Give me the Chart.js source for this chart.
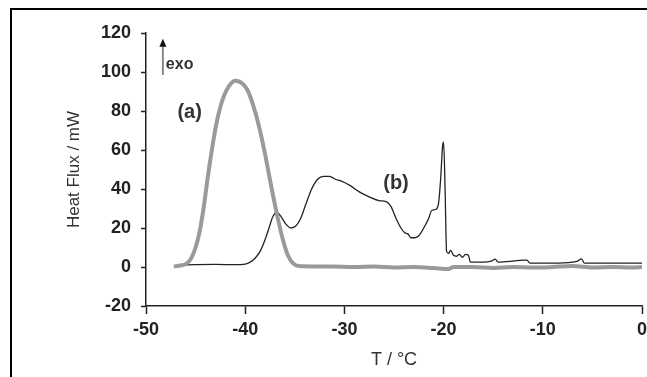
<!DOCTYPE html>
<html>
<head>
<meta charset="utf-8">
<script src="https://cdn.jsdelivr.net/npm/chart.js@4/dist/chart.umd.min.js"></script>
<style>
  body { margin: 0; background: #fff; }
  #wrap { position: relative; width: 647px; height: 377px; overflow: hidden; }
  #frame { position: absolute; left: 10px; top: 8px; right: -4px; bottom: -4px;
           border-left: 2px solid #000; border-top: 2px solid #000; pointer-events: none; }
</style>
</head>
<body>
<div id="wrap">
  <canvas id="chartId" width="647" height="377"></canvas>
  <div id="frame"></div>
</div>
<script>
// curve (a) - thick grey
const tempA = [-47.2, -46.5, -46.0, -45.5, -45.0, -44.6, -44.2, -43.8, -43.3, -42.8, -42.2, -41.6, -41.0, -40.4,
  -39.8, -39.2, -38.6, -38.0, -37.4, -36.8, -36.2, -35.7, -35.2, -34.6, -33, -31, -29, -27, -25, -23, -21,
  -19.5, -19, -17, -15, -13, -11, -9, -7, -5, -3, -1, 0];
const fluxA = [0.3, 0.8, 1.5, 4, 10, 18, 30, 45, 62, 76, 87, 93, 95.5, 94.5,
  91, 83, 72, 58, 42, 27, 14, 6, 2, 0.5, 0.3, 0.2, 0, 0.2, -0.3, 0, -0.5,
  -1, 0, 0, -0.5, 0, -0.3, 0, 0.5, -0.3, 0, -0.3, 0];

// curve (b) - thin black
const tempB = [-46.5, -45, -43, -41, -40, -39.5, -39, -38.5, -38, -37.6, -37.2, -36.8, -36.4, -35.9, -35.4,
  -34.9, -34.4, -33.9, -33.3, -32.7, -32.1, -31.5, -30.9, -30.3, -29.5, -28.5, -27.5, -26.5, -25.8, -25.3,
  -24.8, -24.3, -23.9, -23.6, -23.3, -22.9, -22.5, -22.0, -21.5, -21.2, -20.8, -20.5, -20.3, -20.1, -20.0,
  -19.85, -19.7, -19.5, -19.3, -19.0, -18.7, -18.4, -18.1, -17.8, -17.5, -17.3, -16, -15.2, -14.8, -14.5,
  -13, -12, -11.6, -11.3, -9, -7, -6.5, -6.1, -5.8, -3, 0];
const fluxB = [1, 1.2, 1.3, 1.2, 1.5, 2.5, 4.5, 8, 14, 20, 26, 28, 26, 22, 20,
  21, 25, 32, 40, 45, 46.5, 46.5, 45, 44, 42, 38.5, 36, 34, 33.5, 31,
  25, 20, 17.5, 17, 15, 15, 16, 20, 25, 29, 29.5, 33, 45, 62, 64,
  40, 8, 7, 8.5, 6, 5.5, 6.5, 5, 6.5, 6, 2.5, 2.5, 3, 4, 2.5,
  3, 3.5, 3.5, 2, 2, 2.5, 3, 4.2, 2, 2, 2];

const xTicks = [-50, -40, -30, -20, -10, 0];
const yTicks = [-20, 0, 20, 40, 60, 80, 100, 120];

function pts(xs, ys) {
    return xs.map(function(x, i) { return { x: x, y: ys[i] }; });
}

const fontFam = '"Liberation Sans", Arial, sans-serif';

// labels (a), (b) and the exo arrow, placed in data units
const notes = {
    id: 'notes',
    afterDatasetsDraw(chart) {
        const ctx = chart.ctx;
        const xs = chart.scales.x, ys = chart.scales.y;
        ctx.save();
        ctx.fillStyle = '#333';
        ctx.font = 'bold 20px ' + fontFam;
        ctx.textAlign = 'center';
        ctx.textBaseline = 'middle';
        ctx.fillText('(a)', xs.getPixelForValue(-45.6), ys.getPixelForValue(79));
        ctx.fillText('(b)', xs.getPixelForValue(-24.8), ys.getPixelForValue(43));

        // exo arrow
        const ax = xs.getPixelForValue(-48.3);
        const top = ys.getPixelForValue(117);
        const bot = ys.getPixelForValue(98.5);
        ctx.strokeStyle = '#888';
        ctx.lineWidth = 2;
        ctx.beginPath();
        ctx.moveTo(ax, top + 6);
        ctx.lineTo(ax, bot);
        ctx.stroke();
        ctx.fillStyle = '#111';
        ctx.beginPath();
        ctx.moveTo(ax, top);
        ctx.lineTo(ax - 3.5, top + 8);
        ctx.lineTo(ax + 3.5, top + 8);
        ctx.closePath();
        ctx.fill();
        ctx.fillStyle = '#333';
        ctx.font = 'bold 16px ' + fontFam;
        ctx.textAlign = 'left';
        ctx.textBaseline = 'alphabetic';
        ctx.fillText('exo', ax + 3, ys.getPixelForValue(101.5));
        ctx.restore();
    }
};

var chrt = document.getElementById('chartId').getContext('2d');
var chartId = new Chart(chrt, {
    type: 'line',
    data: {
        datasets: [{
            label: '(a)',
            data: pts(tempA, fluxA),
            borderColor: '#9a9a9a',
            borderWidth: 4,
            pointRadius: 0,
            cubicInterpolationMode: 'monotone'
        }, {
            label: '(b)',
            data: pts(tempB, fluxB),
            borderColor: '#222',
            borderWidth: 1.3,
            pointRadius: 0,
            cubicInterpolationMode: 'monotone'
        }]
    },
    options: {
        responsive: false,
        animation: false,
        layout: { padding: { top: 33, right: 5, left: 0, bottom: 0 } },
        plugins: { legend: { display: false }, tooltip: { enabled: false } },
        scales: {
            x: {
                type: 'linear',
                min: -50, max: 0,
                afterBuildTicks: function(s) { s.ticks = xTicks.map(function(v) { return { value: v }; }); },
                afterFit: function(s) { s.height = 71; s.paddingLeft = 0; s.paddingRight = 0; },
                grid: { drawOnChartArea: false, tickLength: 8, tickColor: '#222', tickWidth: 1.5 },
                border: { color: '#222', width: 1.5 },
                ticks: { color: '#222', padding: 5, maxRotation: 0, font: { family: fontFam, size: 18, weight: 'bold' } },
                title: { display: true, text: 'T / °C', color: '#333', padding: { top: 0, bottom: 6 },
                         font: { family: fontFam, size: 18 } }
            },
            y: {
                min: -20, max: 120,
                afterBuildTicks: function(s) { s.ticks = yTicks.map(function(v) { return { value: v }; }); },
                afterFit: function(s) { s.width = 146; s.paddingTop = 0; s.paddingBottom = 0; },
                grid: { drawOnChartArea: false, tickLength: 5, tickColor: '#222', tickWidth: 1.5 },
                border: { color: '#222', width: 1.5 },
                ticks: { color: '#222', padding: 10, font: { family: fontFam, size: 18, weight: 'bold' } },
                title: { display: true, text: 'Heat Flux / mW', color: '#333', padding: { top: 64, bottom: 0 },
                         font: { family: fontFam, size: 17 } }
            }
        }
    },
    plugins: [notes]
});
</script>
</body>
</html>
